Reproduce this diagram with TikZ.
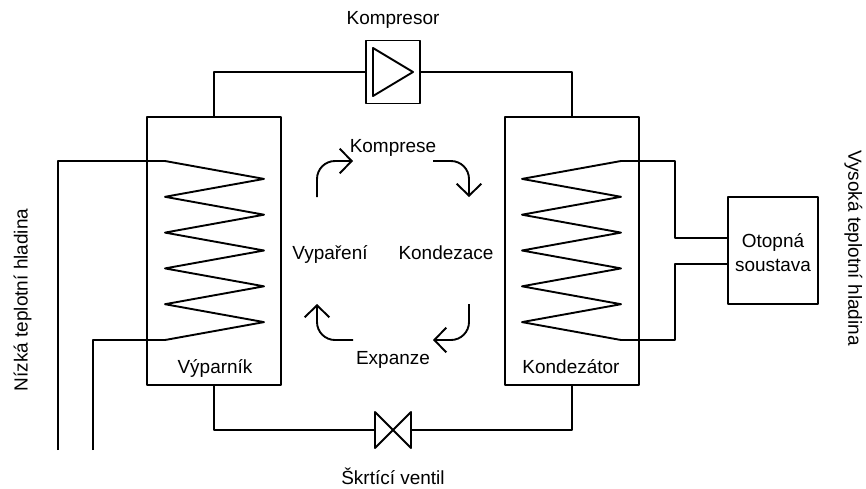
\documentclass[tikz,border=0pt]{standalone}
\usepackage{fontspec}
\setmainfont{Liberation Sans}
\usetikzlibrary{arrows.meta, positioning}

\begin{document}
\begin{tikzpicture}[auto, >=Stealth, line width=1.35pt, line join=round, font=\fontsize{13.5}{17}\selectfont]
        % Styles for boxes, captions and cycle arrows
        \tikzstyle{block} = [draw, rectangle, inner sep=0pt, outer sep=0pt]
        \tikzstyle{exchanger} = [block, minimum width=3.35cm, minimum height=6.7cm]
        \tikzstyle{caption} = [inner sep=0pt, outer sep=0pt, text height=0.72em, text depth=0.21em]
        \tikzstyle{flow} = [-{Straight Barb[length=0.3cm, width=0.62cm]}, rounded corners=0.45cm]
        \useasboundingbox (0,0) rectangle (21.65,-12.2);
       % Main components
       \node at (5.36,-6.275) [exchanger] (evaporator) {}; % Evaporator
       \node at (14.3,-6.275) [exchanger] (condenser) {}; % Condenser
       \node at (9.825,-1.8) [block, minimum width=1.35cm, minimum height=1.575cm] (compressor) {}; % Compressor
       \node at (9.825,-10.75) [inner sep=0pt, outer sep=0pt, minimum size=0.9cm] (valve) {}; % Throttle valve
       \node at (19.325,-6.2625) [block, minimum width=2.25cm, minimum height=2.675cm] (heating) {}; % Heating system
       % Captions
       \node [inner sep=0pt, align=center, yshift=-0.05cm] at (heating.center) (heatingText) {Otopná\\soustava};
       \node [caption, on grid, above=1.28cm of compressor] (compressorText) {Kompresor};
       \node [caption, on grid, below=1.265cm of valve] (valveText) {Škrtící ventil};
       \node [caption, on grid, above=3cm of valveText] (expansionText) {Expanze};
       \node [caption] at (9.825,-3.715) (compressionText) {Komprese};
       \node [caption] at (8.25,-6.39) (evaporationText) {Vypaření};
       \node [caption, on grid, right=2.9cm of evaporationText] (condensationText) {Kondezace};
       \node [caption] at (5.375,-9.25) (evaporatorText) {Výparník};
       \node [caption] at (14.275,-9.25) (condenserText) {Kondezátor};
       \node [caption, rotate=90] at (0.6,-7.5) (lowText) {Nízká teplotní hladina};
       \node [caption, rotate=-90] at (21.3,-6.2) (highText) {Vysoká teplotní hladina};
       % Evaporator coil and its pipes
       \node at (4.125,-4.025) [coordinate] (coilEvapIn) {};
       \node [coordinate, on grid, below=4.475cm of coilEvapIn] (coilEvapOut) {};
       \node [coordinate, on grid, left=2.675cm of coilEvapIn] (elbowLow1) {};
       \node [coordinate, on grid, below=7.225cm of elbowLow1] (endLow1) {};
       \node [coordinate, on grid, left=1.8cm of coilEvapOut] (elbowLow2) {};
       \node [coordinate, on grid, below=2.75cm of elbowLow2] (endLow2) {};
       % Condenser coil and its pipes
       \node at (15.525,-4.025) [coordinate] (coilCondIn) {};
       \node [coordinate, on grid, below=4.475cm of coilCondIn] (coilCondOut) {};
       \node [coordinate, on grid, right=1.35cm of coilCondIn] (elbowHigh1) {};
       \node [coordinate, on grid, right=1.35cm of coilCondOut] (elbowHigh2) {};
       \node [coordinate, on grid, above=0.3125cm of heating.west] (portHigh1) {};
       \node [coordinate, on grid, below=0.3375cm of heating.west] (portHigh2) {};
       % Ends of the cycle arrows
       \node at (7.925,-4.925) [coordinate] (cycleA) {};
       \node at (8.825,-4.025) [coordinate] (cycleB) {};
       \node at (10.825,-4.025) [coordinate] (cycleC) {};
       \node at (11.725,-4.925) [coordinate] (cycleD) {};
       \node at (11.725,-7.6) [coordinate] (cycleE) {};
       \node at (10.825,-8.5) [coordinate] (cycleF) {};
       \node at (8.825,-8.5) [coordinate] (cycleG) {};
       \node at (7.925,-7.6) [coordinate] (cycleH) {};
       % Connections
       \draw[-] (evaporator.north) |- (compressor.west); % Evaporator to compressor
       \draw[-] (compressor.east) -| (condenser.north); % Compressor to condenser
       \draw[-] (condenser.south) |- (valve.east); % Condenser to valve
       \draw[-] (valve.west) -| (evaporator.south); % Valve to evaporator
       \draw[-] (endLow1) -- (elbowLow1) -- (coilEvapIn);
       \draw[-] (endLow2) -- (elbowLow2) -- (coilEvapOut);
       \draw[-] (coilCondIn) -- (elbowHigh1) |- (portHigh1);
       \draw[-] (coilCondOut) -- (elbowHigh2) |- (portHigh2);
       % Coils
       \draw[-] (coilEvapIn) -- ++(2.475,-0.4475) -- ++(-2.475,-0.4475) -- ++(2.475,-0.4475) -- ++(-2.475,-0.4475)
          -- ++(2.475,-0.4475) -- ++(-2.475,-0.4475) -- ++(2.475,-0.4475) -- ++(-2.475,-0.4475)
          -- ++(2.475,-0.4475) -- (coilEvapOut);
       \draw[-] (coilCondIn) -- ++(-2.475,-0.4475) -- ++(2.475,-0.4475) -- ++(-2.475,-0.4475) -- ++(2.475,-0.4475)
          -- ++(-2.475,-0.4475) -- ++(2.475,-0.4475) -- ++(-2.475,-0.4475) -- ++(2.475,-0.4475)
          -- ++(-2.475,-0.4475) -- (coilCondOut);
       % Compressor triangle and valve symbol
       \draw[-] ([shift={(-0.5,0.6)}]compressor.center) -- ++(0,-1.2) -- ++(1,0.6) -- cycle;
       \draw[-] (valve.north west) -- (valve.south east) -- (valve.north east) -- (valve.south west) -- cycle;
       % Cycle arrows
       \draw[flow] (cycleA) |- (cycleB);
       \draw[flow] (cycleC) -| (cycleD);
       \draw[flow] (cycleE) |- (cycleF);
       \draw[flow] (cycleG) -| (cycleH);
      \end{tikzpicture}
\end{document}
